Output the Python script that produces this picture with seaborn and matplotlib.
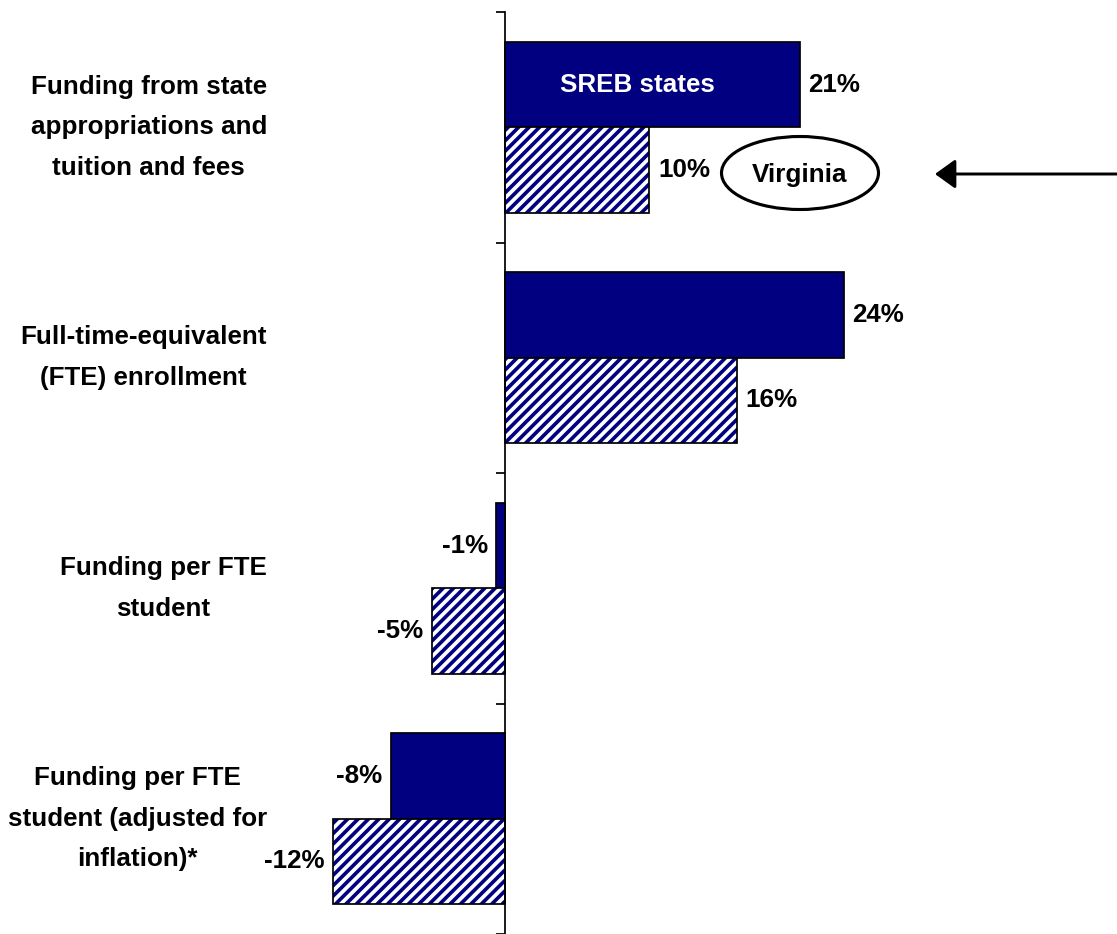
import matplotlib.pyplot as plt
import seaborn as sns
import pandas as pd
from matplotlib.patches import Rectangle, Ellipse

# Data (percent change); labels are the rounded values shown
categories = [
    "Funding from state\nappropriations and\ntuition and fees",
    "Full-time-equivalent\n(FTE) enrollment",
    "Funding per FTE\nstudent",
    "Funding per FTE\nstudent (adjusted for\ninflation)*",
]
groups = ["SREB states", "Virginia"]
sreb_values = [20.6, 23.7, -0.6, -8.0]
virginia_values = [10.1, 16.2, -5.1, -12.0]

NAVY = "#000080"

sns.set_style("white")
plt.rcParams["font.family"] = ["Liberation Sans", "DejaVu Sans"]
plt.rcParams["font.weight"] = "bold"
plt.rcParams["text.color"] = "black"
plt.rcParams["hatch.linewidth"] = 2.1

df = pd.DataFrame({
    "category": categories * 2,
    "group": [groups[0]] * len(categories) + [groups[1]] * len(categories),
    "value": sreb_values + virginia_values,
})

fig = plt.figure(figsize=(1117 / 125, 934 / 125), dpi=125)
ax = fig.add_axes([0, 0, 1, 922 / 934])

sns.barplot(data=df, y="category", x="value", hue="group", orient="h",
            hue_order=groups, palette=[NAVY, "white"], saturation=1, width=0.741,
            edgecolor="black", linewidth=1.0, legend=False, ax=ax)

# hatched Virginia bars with a black outline on top
for p in ax.containers[1]:
    p.set_facecolor("white")
    p.set_edgecolor(NAVY)
    p.set_hatch("////")
    p.set_linewidth(0)
    ax.add_patch(Rectangle((p.get_x(), p.get_y()), p.get_width(), p.get_height(),
                           fill=False, edgecolor="black", linewidth=1.0, zorder=p.get_zorder() + 0.1))

ax.set_xlim(-505 / 14.3, (1117 - 505) / 14.3)
ax.set_ylim(3.483, -0.5)

# value labels
for cont, vals in zip(ax.containers, [sreb_values, virginia_values]):
    ax.bar_label(cont, labels=[f"{round(v):.0f}%" for v in vals], padding=5,
                 fontsize=15, fontweight="bold", color="black")

# axis: only a vertical line at zero with ticks between categories
for side in ["top", "right", "bottom"]:
    ax.spines[side].set_visible(False)
ax.spines["left"].set_position(("data", 0))
ax.spines["left"].set_linewidth(1.0)
ax.spines["left"].set_color("black")
ax.set_yticks([i - 0.5 for i in range(len(categories) + 1)])
ax.set_yticklabels([])
ax.tick_params(axis="y", direction="out", length=5, width=1.0, color="black", left=True)
ax.set_xticks([])
ax.set_xlabel("")
ax.set_ylabel("")

# category labels
for i, cat in enumerate(categories):
    ax.text(267 / 1117, i, cat, transform=ax.get_yaxis_transform(), ha="right", va="center",
            multialignment="center", fontsize=15, fontweight="bold", linespacing=1.88,
            color="black")

# series label inside the first SREB bar
first = ax.containers[0][0]
ax.text(first.get_x() + first.get_width() * 0.45, first.get_y() + first.get_height() / 2,
        "SREB states", color="white", ha="center", va="center", fontsize=15, fontweight="bold")

# Virginia callout with ellipse and arrow
fig.patches.append(Ellipse((800 / 1117, 1 - 173 / 934), 157 / 1117, 73 / 934,
                           transform=fig.transFigure, fill=False, edgecolor="black", linewidth=1.8))
fig.text(800 / 1117, 1 - 175 / 934, "Virginia", ha="center", va="center",
         fontsize=15, fontweight="bold", color="black")
ax.annotate("", xy=(935 / 1117, 1 - 174 / 934), xytext=(1.01, 1 - 174 / 934),
            xycoords="figure fraction", textcoords="figure fraction",
            arrowprops=dict(arrowstyle="-|>,head_length=0.5,head_width=0.36", lw=1.7,
                            color="black", mutation_scale=20, shrinkA=0, shrinkB=0))

plt.savefig("out.png", dpi=125)
